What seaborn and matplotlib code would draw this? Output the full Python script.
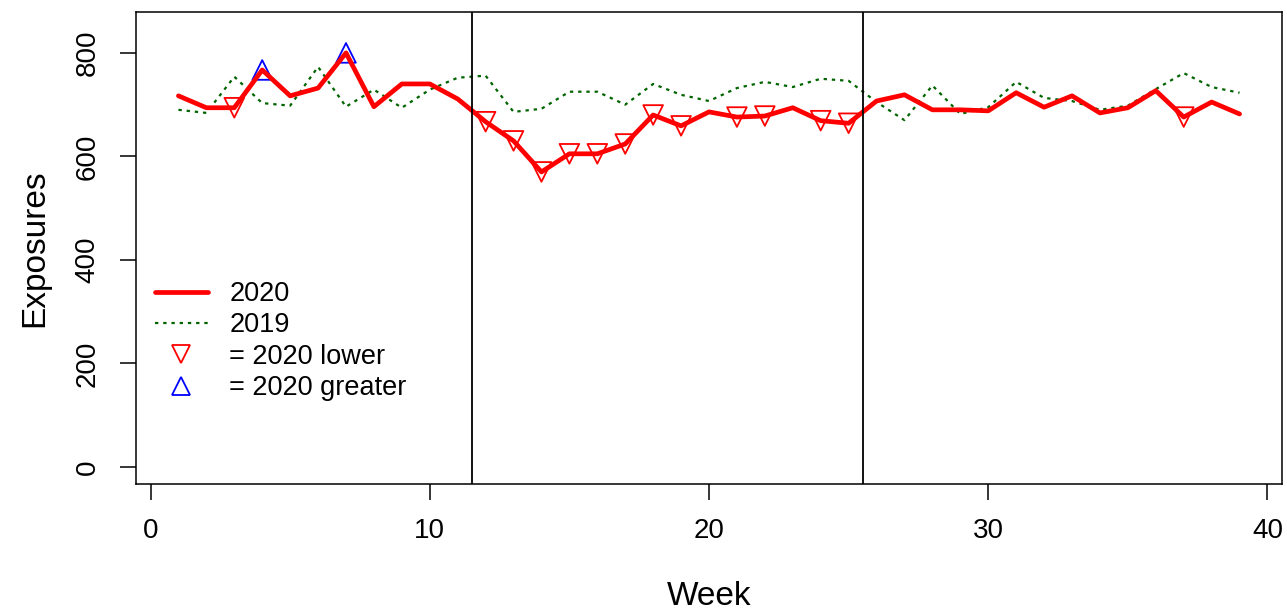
import matplotlib
matplotlib.use("Agg")
import matplotlib.pyplot as plt
from matplotlib.lines import Line2D
import numpy as np
import pandas as pd
import seaborn as sns

weeks = list(range(1, 40))
exp_2020 = [717, 694, 694, 767, 717, 732, 800, 696, 740, 740,
            711, 667, 630, 570, 605, 605, 624, 680, 659, 686,
            676, 678, 694, 669, 664, 707, 719, 690, 690, 688,
            723, 695, 717, 684, 694, 727, 676, 705, 682]
exp_2019 = [690, 684, 754, 703, 698, 773, 696, 729, 694, 729,
            752, 756, 686, 692, 725, 725, 700, 740, 719, 707,
            732, 744, 734, 750, 746, 705, 670, 737, 682, 695,
            744, 713, 707, 690, 698, 730, 761, 734, 723]
lower_weeks = [3, 12, 13, 14, 15, 16, 17, 18, 19, 21, 22, 24, 25, 37]
greater_weeks = [4, 7]
period_breaks = [11.5, 25.5]
x_ticks = [0, 10, 20, 30, 40]
y_ticks = [0, 200, 400, 600, 800]
legend_labels = ["2020", "2019", "= 2020 lower", "= 2020 greater"]

sns.set_style("white")
plt.rcParams['font.family'] = ['Liberation Sans', 'DejaVu Sans']
plt.rcParams['text.color'] = 'black'
plt.rcParams['axes.labelcolor'] = 'black'

df = pd.DataFrame({"week": weeks, "y2020": exp_2020, "y2019": exp_2019})
low = df[df["week"].isin(lower_weeks)]
high = df[df["week"].isin(greater_weeks)]

fig = plt.figure(figsize=(12.87, 6.14), dpi=100)
ax = fig.add_axes([136/1287, 1 - 484/614, (1282-136)/1287, (484-12)/614])

sns.lineplot(data=df, x="week", y="y2019", ax=ax, color="#006400", lw=1.6,
             linestyle=(0, (1.5, 2.2)), legend=False)
sns.lineplot(data=df, x="week", y="y2020", ax=ax, color="#ff0000", lw=3.4,
             legend=False)
sns.scatterplot(data=low, x="week", y="y2020", ax=ax, marker="v", s=200,
                facecolor="none", edgecolor="#ff0000", linewidth=1.3, legend=False)
sns.scatterplot(data=high, x="week", y="y2020", ax=ax, marker="^", s=200,
                facecolor="none", edgecolor="#0000ff", linewidth=1.3, legend=False)
for b in period_breaks:
    ax.axvline(b, color="black", lw=1.3)

ax.set_xlim(-0.52, 40.52)
ax.set_ylim(-33, 879)
ax.set_xticks(x_ticks)
ax.set_yticks(y_ticks)
ax.set_yticklabels([str(v) for v in y_ticks], rotation=90, va="center")
ax.tick_params(axis="both", direction="out", length=11.5, width=1.1,
               labelsize=20, colors="black", labelcolor="black", bottom=True, left=True)
ax.tick_params(axis="x", pad=13)
ax.tick_params(axis="y", pad=14)
for sp in ax.spines.values():
    sp.set_color("black")
    sp.set_linewidth(1.1)

ax.set_xlabel("Week", fontsize=24, color="black")
ax.set_ylabel("Exposures", fontsize=24, color="black")
ax.xaxis.set_label_coords(0.5, -0.205)
ax.yaxis.set_label_coords(-0.075, 0.5)

handles = [
    Line2D([], [], color="#ff0000", lw=3.4),
    Line2D([], [], color="#006400", lw=1.6, linestyle=(0, (1.5, 2.2))),
    Line2D([], [], color="none", marker="v", markersize=13, markerfacecolor="none",
           markeredgecolor="#ff0000", markeredgewidth=1.3),
    Line2D([], [], color="none", marker="^", markersize=13, markerfacecolor="none",
           markeredgecolor="#0000ff", markeredgewidth=1.3),
]
leg = ax.legend(handles, legend_labels, loc="upper left",
                bbox_to_anchor=(155/1287, 1 - 281/614), bbox_transform=fig.transFigure,
                frameon=False, fontsize=19.5, handlelength=1.95, handletextpad=0.8,
                labelspacing=0.2, borderpad=0, borderaxespad=0)
for t in leg.get_texts():
    t.set_color("black")

fig.savefig("out.png", dpi=100)
